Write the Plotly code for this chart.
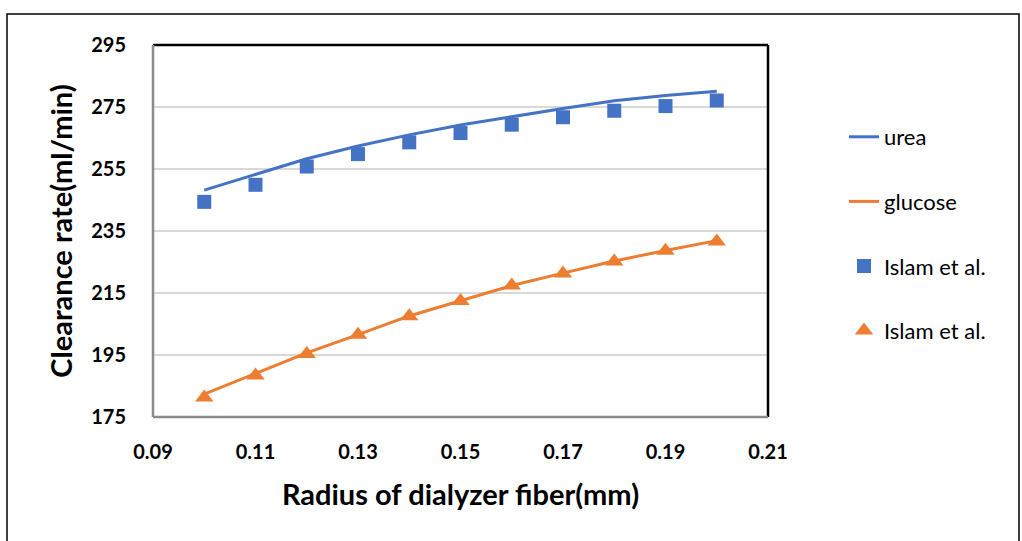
import plotly.graph_objects as go

# Fiber radius (mm)
radius = [0.10, 0.11, 0.12, 0.13, 0.14, 0.15, 0.16, 0.17, 0.18, 0.19, 0.20]

# Model clearance rate (ml/min)
urea_model = [248.2, 253.3, 258.3, 262.4, 266.0, 269.2, 271.9, 274.5, 277.0, 278.7, 280.1]
glucose_model = [182.4, 189.0, 195.7, 201.6, 207.6, 212.5, 217.4, 221.4, 225.3, 228.7, 231.9]

# Reference data (Islam et al.)
urea_ref = [244.4, 249.9, 255.8, 259.8, 263.6, 266.6, 269.3, 271.7, 273.8, 275.3, 277.1]
glucose_ref = [181.3, 188.4, 195.3, 201.5, 207.5, 212.4, 217.4, 221.3, 225.2, 228.6, 231.6]

x_ticks = [0.09, 0.11, 0.13, 0.15, 0.17, 0.19, 0.21]
y_ticks = [175, 195, 215, 235, 255, 275, 295]

BLUE = "#4472C4"
ORANGE = "#ED7D31"
FONT = "Lato"

fig = go.Figure()
fig.add_trace(go.Scatter(x=radius, y=urea_model, mode="lines", name="urea",
                         line=dict(color=BLUE, width=3), legendgroup="a"))
fig.add_trace(go.Scatter(x=radius, y=glucose_model, mode="lines", name="glucose",
                         line=dict(color=ORANGE, width=3), legendgroup="b"))
fig.add_trace(go.Scatter(x=radius, y=urea_ref, mode="markers", name="Islam et al.",
                         marker=dict(symbol="square", size=14, color=BLUE), legendgroup="c"))
fig.add_trace(go.Scatter(x=radius, y=glucose_ref, mode="markers", name="Islam et al.",
                         marker=dict(symbol="triangle-up", size=16, color=ORANGE), legendgroup="d"))

ml, mr, mt, mb = 153, 254, 45, 124
W, H = 1022, 541
pw, ph = W - ml - mr, H - mt - mb

def px(x):
    return (x - ml) / pw

def py(y):
    return (H - mb - y) / ph

fig.update_layout(
    width=W, height=H,
    margin=dict(l=ml, r=mr, t=mt, b=mb),
    paper_bgcolor="white", plot_bgcolor="white",
    font=dict(family=FONT, color="black"),
    showlegend=True,
    legend=dict(x=px(844), y=py(116), xanchor="left", yanchor="top",
                font=dict(size=22, family=FONT, color="black"),
                tracegroupgap=33, traceorder="grouped",
                bgcolor="rgba(0,0,0,0)"),
    xaxis=dict(range=[0.09, 0.21], tickvals=x_ticks,
               ticktext=[f"{v:.2f}" for v in x_ticks],
               showgrid=False, zeroline=False, showline=False,
               ticks="outside", ticklen=17, tickcolor="rgba(0,0,0,0)",
               tickfont=dict(size=20, family=FONT, color="black", weight="bold"),
               title=dict(text="Radius of dialyzer fiber(mm)", standoff=22,
                          font=dict(size=29, family=FONT, color="black", weight="bold"))),
    yaxis=dict(range=[175, 295], tickvals=y_ticks,
               showgrid=True, gridcolor="#d9d9d9", gridwidth=1.5,
               zeroline=False, showline=False,
               ticks="outside", ticklen=22, tickcolor="rgba(0,0,0,0)",
               tickfont=dict(size=20, family=FONT, color="black", weight="bold"),
               title=dict(text="Clearance rate(ml/min)", standoff=10,
                          font=dict(size=29, family=FONT, color="black", weight="bold"))),
    shapes=[
        # outer frame
        dict(type="rect", xref="paper", yref="paper",
             x0=px(7), x1=px(1019), y0=py(560), y1=py(14),
             line=dict(color="black", width=1.5), layer="above"),
        # plot area frame
        dict(type="line", xref="paper", yref="paper", x0=0, x1=1, y0=1, y1=1,
             line=dict(color="black", width=2.5)),
        dict(type="line", xref="paper", yref="paper", x0=1, x1=1, y0=0, y1=1,
             line=dict(color="black", width=2.5)),
        dict(type="line", xref="paper", yref="paper", x0=0, x1=0, y0=0, y1=1,
             line=dict(color="#8c8c8c", width=2.5)),
        dict(type="line", xref="paper", yref="paper", x0=0, x1=1, y0=0, y1=0,
             line=dict(color="#8c8c8c", width=2.5)),
    ],
)

fig.write_html("out.html")
